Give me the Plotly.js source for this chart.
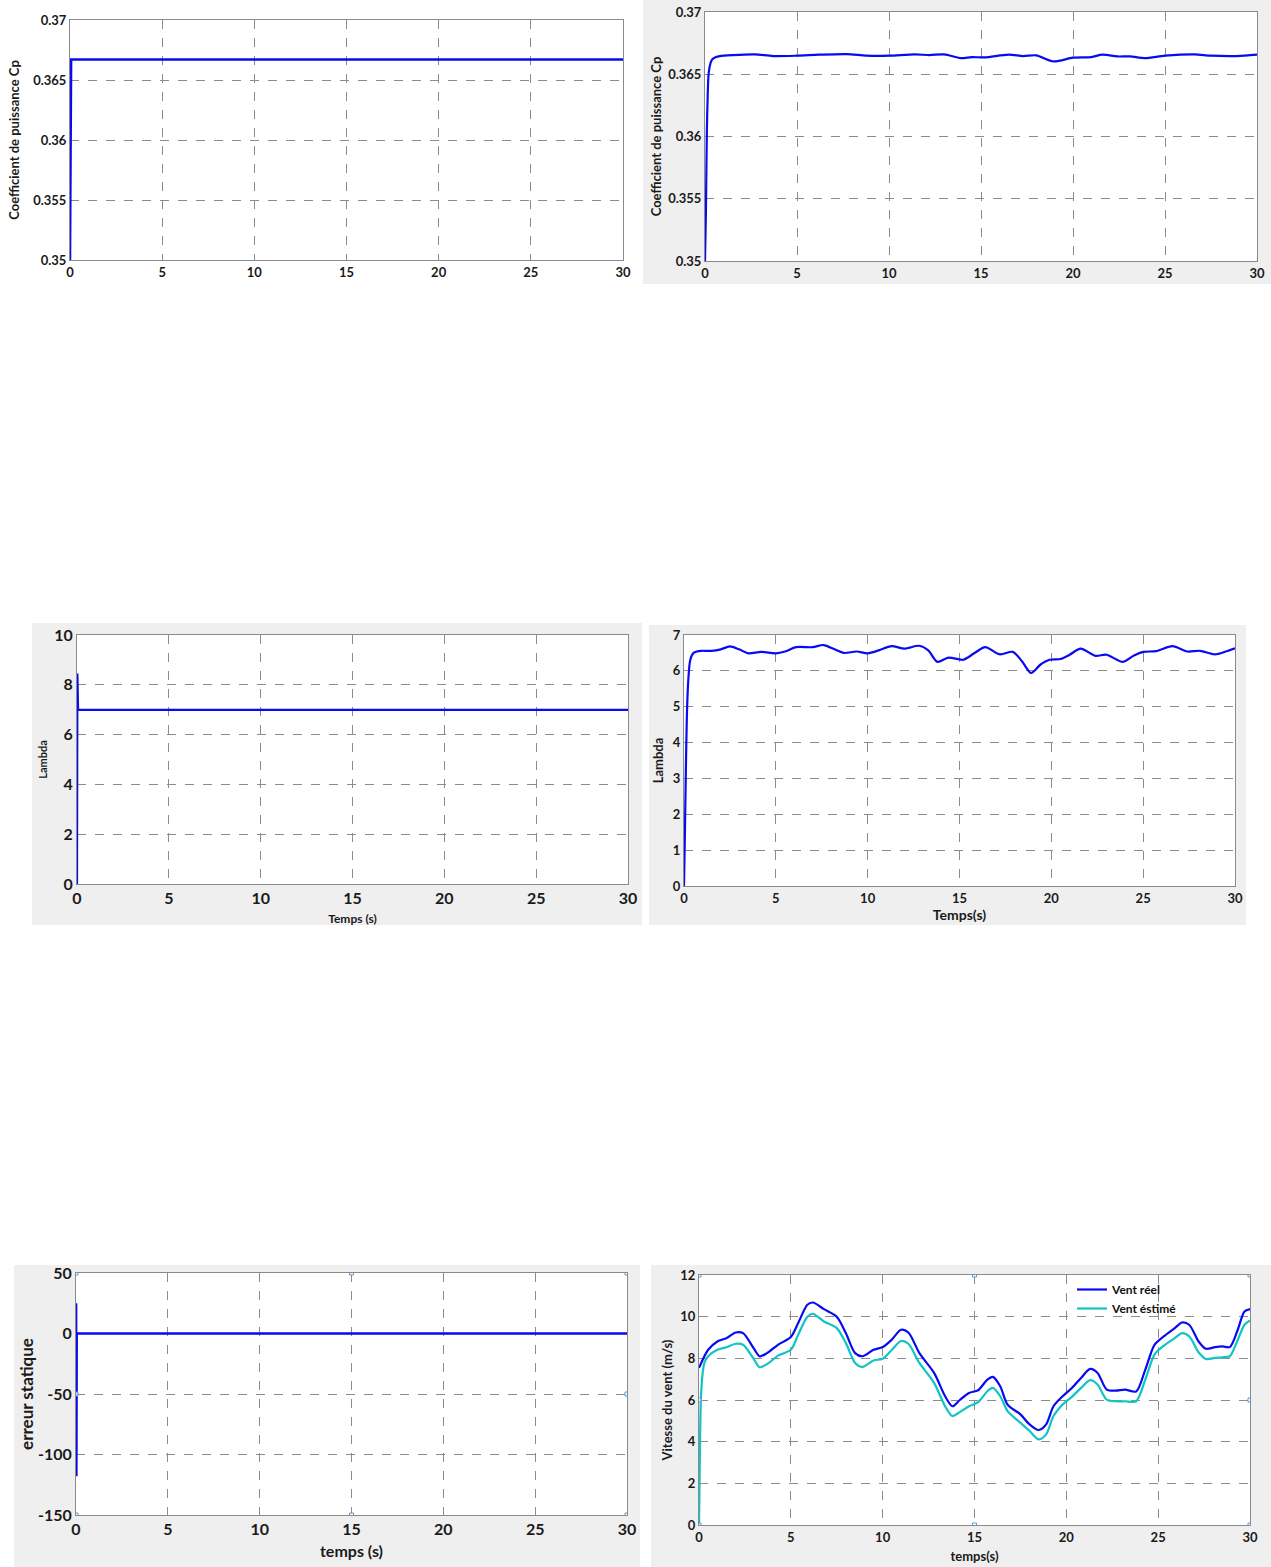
<!DOCTYPE html>
<html><head><meta charset="utf-8">
<script src="https://cdn.plot.ly/plotly-3.0.1.min.js"></script>
<style>html,body{margin:0;padding:0;background:#fff}#chart{width:1271px;height:1567px}</style>
</head><body><div id="chart"></div>
<script>
// ---------- DATA ----------
// Panel 1: Cp (left) – step response
const cp1_t = [0, 0.03, 0.06, 30];
const cp1_v = [0.35, 0.3667, 0.3667, 0.3667];

// Panel 2: Cp (right) – with ripples
const cp2_t = [0, 0.05, 0.1, 0.15, 0.2, 0.3, 0.4, 0.6, 0.8, 1.5, 2.7, 3.7, 5, 6.2, 7.7, 8.8, 10, 11.4, 12.2, 13, 13.9, 14.5, 15.2, 16.5, 17.3, 18, 18.95, 20, 21, 21.6, 22.4, 23.1, 23.9, 25, 26.6, 27.5, 28.9, 30];
const cp2_v = [0.35, 0.354, 0.3603, 0.3635, 0.3651, 0.3659, 0.3662, 0.36638, 0.36646, 0.36654, 0.3666, 0.36646, 0.36649, 0.36657, 0.36662, 0.36649, 0.36649, 0.3666, 0.36654, 0.3666, 0.3663, 0.36638, 0.36635, 0.36657, 0.36646, 0.36652, 0.36603, 0.36633, 0.36638, 0.36657, 0.36643, 0.36643, 0.3663, 0.36649, 0.3666, 0.36649, 0.36646, 0.36657];

// Panel 3: Lambda (left)
const lam1_t = [0, 0.02, 0.06, 0.1, 30];
const lam1_v = [0, 8.45, 7.0, 6.99, 6.99];

// Panel 4: Lambda (right)
const lam2_t = [0, 0.05, 0.1, 0.15, 0.2, 0.26, 0.32, 0.4, 0.52, 0.7, 0.93, 1.5, 2, 2.5, 3, 3.5, 4.2, 5, 5.5, 6.1, 7, 7.6, 8.2, 8.7, 9.4, 10, 10.6, 11.3, 12, 12.8, 13.3, 13.8, 14.4, 15.2, 15.8, 16.4, 17.2, 17.9, 18.4, 18.9, 19.4, 19.9, 20.5, 21, 21.6, 22.4, 23, 23.9, 24.5, 25, 25.7, 26.6, 27.4, 28.1, 28.9, 29.5, 30];
const lam2_v = [0, 1.5, 3.2, 4.6, 5.4, 5.94, 6.25, 6.4, 6.5, 6.54, 6.56, 6.56, 6.6, 6.68, 6.6, 6.49, 6.53, 6.49, 6.54, 6.66, 6.66, 6.72, 6.6, 6.5, 6.54, 6.49, 6.57, 6.69, 6.62, 6.7, 6.57, 6.25, 6.37, 6.31, 6.49, 6.66, 6.46, 6.53, 6.27, 5.94, 6.17, 6.31, 6.33, 6.45, 6.62, 6.42, 6.45, 6.25, 6.43, 6.53, 6.55, 6.69, 6.54, 6.56, 6.46, 6.54, 6.63];

// Panel 5: erreur statique
const err_t = [0, 0.005, 0.02, 0.04, 30];
const err_v = [0, 25, -118, 0, 0];
const err_ticks = [-150, -100, -50, 0, 50];
const err_ticktext = ['-150', '-100', '-50', '0', '50'];

// Panel 6: wind speed
const wind_t = [0, 0.5, 1, 1.5, 2, 2.4, 3, 3.3, 3.7, 4.3, 5, 5.4, 5.9, 6.2, 6.8, 7.5, 8, 8.5, 8.9, 9.5, 10, 10.5, 11, 11.4, 12, 12.8, 13.4, 13.8, 14.2, 14.7, 15.2, 15.7, 16, 16.4, 16.8, 17.5, 18, 18.5, 18.9, 19.3, 19.8, 20.3, 20.8, 21.3, 21.7, 22.2, 22.7, 23.2, 23.8, 24.3, 24.8, 25.3, 25.9, 26.3, 26.7, 27.2, 27.6, 28.1, 28.5, 28.9, 29.3, 29.7, 30];
const wind_real = [7.54, 8.41, 8.81, 8.97, 9.24, 9.21, 8.45, 8.1, 8.25, 8.65, 9.02, 9.69, 10.57, 10.68, 10.36, 10.0, 9.2, 8.25, 8.1, 8.41, 8.54, 8.9, 9.37, 9.24, 8.25, 7.3, 6.18, 5.7, 6.0, 6.34, 6.47, 6.98, 7.11, 6.66, 5.78, 5.31, 4.83, 4.56, 4.83, 5.7, 6.18, 6.58, 7.06, 7.49, 7.3, 6.5, 6.45, 6.5, 6.41, 7.46, 8.65, 9.05, 9.45, 9.72, 9.6, 8.81, 8.46, 8.54, 8.57, 8.54, 9.29, 10.25, 10.36];
const west_t = [0, 0.05, 0.1, 0.2, 0.3, 0.5, 1, 1.5, 2, 2.4, 3, 3.3, 3.8, 4.3, 5, 5.4, 5.9, 6.2, 6.8, 7.5, 8, 8.5, 8.9, 9.5, 10, 10.5, 11, 11.4, 12, 12.8, 13.4, 13.8, 14.2, 14.7, 15.2, 15.7, 16, 16.4, 16.8, 17.5, 18, 18.5, 18.9, 19.3, 19.8, 20.3, 20.8, 21.3, 21.7, 22.2, 22.7, 23.2, 23.8, 24.3, 24.8, 25.3, 25.9, 26.3, 26.7, 27.2, 27.6, 28.1, 28.5, 28.9, 29.3, 29.7, 30];
const wind_est = [0, 3.5, 6.0, 7.3, 7.8, 8.1, 8.41, 8.53, 8.7, 8.65, 7.94, 7.57, 7.78, 8.13, 8.41, 9.13, 10.0, 10.14, 9.77, 9.45, 8.73, 7.78, 7.59, 7.9, 7.98, 8.41, 8.83, 8.7, 7.78, 6.82, 5.7, 5.23, 5.42, 5.7, 5.9, 6.42, 6.58, 6.18, 5.47, 4.91, 4.51, 4.11, 4.35, 5.23, 5.78, 6.15, 6.58, 6.95, 6.74, 6.02, 5.94, 5.94, 5.94, 6.98, 8.18, 8.6, 8.97, 9.21, 9.05, 8.29, 7.97, 8.02, 8.05, 8.1, 8.81, 9.61, 9.82];

// ---------- LAYOUT HELPERS ----------
const W = 1271, H = 1567;
const dx = (a, b) => [a / W, b / W];
const dy = (top, bot) => [1 - bot / H, 1 - top / H];
const FONT = 'Lato, "Open Sans", sans-serif';
const BLUE = '#0a0af0', CYAN = '#10c4c4';

function ax(domain, anchor, range, dtick, tsize, title, tfs, standoff) {
  const o = {
    domain: domain, anchor: anchor, range: range, dtick: dtick, tick0: range[0],
    showline: true, mirror: true, linecolor: '#8a8a8a', linewidth: 1,
    showgrid: true, gridcolor: '#8c8c8c', griddash: 'dash', gridwidth: 1,
    zeroline: false, ticks: '', fixedrange: true, automargin: false,
    tickfont: {family: FONT, size: tsize, color: '#1a1a1a', weight: 'bold'}
  };
  if (title) o.title = {text: title, font: {family: FONT, size: tfs, color: '#1a1a1a', weight: 'bold'}, standoff: standoff};
  return o;
}

function line(t, v, xa, ya, color, w, name, show, shape) {
  return {x: t, y: v, xaxis: xa, yaxis: ya, type: 'scatter', mode: 'lines', name: name || '',
    showlegend: !!show, line: {color: color, width: w, shape: shape || 'linear', smoothing: 0.8}, hoverinfo: 'skip'};
}

const traces = [
  line(cp1_t, cp1_v, 'x', 'y', BLUE, 2.5),
  line(cp2_t, cp2_v, 'x2', 'y2', BLUE, 2.2, '', false, 'spline'),
  line(lam1_t, lam1_v, 'x3', 'y3', BLUE, 2.2),
  line(lam2_t, lam2_v, 'x4', 'y4', BLUE, 2.2, '', false, 'spline'),
  line(err_t, err_v, 'x5', 'y5', BLUE, 2.5),
  line(wind_t, wind_real, 'x6', 'y6', BLUE, 2.2, 'Vent réel', true, 'spline'),
  line(west_t, wind_est, 'x6', 'y6', CYAN, 2.2, 'Vent éstimé', true, 'spline')
];

const bg = '#efefef';
const rect = (x0, y0, x1, y1, c) => ({type: 'rect', xref: 'paper', yref: 'paper', x0: x0 / W, x1: x1 / W, y0: 1 - y1 / H, y1: 1 - y0 / H, fillcolor: c, line: {width: 0}, layer: 'below'});
const shapes = [
  rect(643, 0, 1271, 284, bg),
  rect(32, 623, 642, 925, bg),
  rect(649, 625, 1246, 925, bg),
  rect(14, 1265, 640, 1567, bg),
  rect(651, 1265, 1271, 1567, bg),
  // white plot areas on top of the grey frames
  rect(705, 12, 1257, 261, '#ffffff'),
  rect(77, 635, 628, 884, '#ffffff'),
  rect(684, 635, 1235, 886, '#ffffff'),
  rect(76, 1273, 627, 1515, '#ffffff'),
  rect(699, 1275, 1250, 1525, '#ffffff')
];
// small selection handles (decoration) on the lower panels
function handle(xa, ya, xv, yv) {
  return {type: 'rect', xref: xa, yref: ya, xsizemode: 'pixel', ysizemode: 'pixel', xanchor: xv, yanchor: yv,
    x0: -2, x1: 2, y0: -2, y1: 2, line: {color: '#5b9bd5', width: 1}, fillcolor: 'rgba(255,255,255,0.8)', layer: 'above'};
}
[[0, 50], [15, 50], [30, 50], [0, -50], [30, -50], [0, -150], [15, -150], [30, -150]].forEach(p => shapes.push(handle('x5', 'y5', p[0], p[1])));
[[0, 12], [15, 12], [30, 12], [0, 6], [30, 6], [0, 0], [15, 0], [30, 0]].forEach(p => shapes.push(handle('x6', 'y6', p[0], p[1])));

const y5 = ax(dy(1273, 1515), 'x5', [-150, 50], 50, 16, 'erreur statique', 17, 0);
y5.tickmode = 'array'; y5.tickvals = err_ticks; y5.ticktext = err_ticktext;

const layout = {
  width: W, height: H, margin: {l: 0, r: 0, t: 0, b: 0},
  paper_bgcolor: '#ffffff', plot_bgcolor: '#ffffff',
  font: {family: FONT},
  shapes: shapes,
  xaxis: ax(dx(70, 623), 'y', [0, 30], 5, 13),
  yaxis: ax(dy(20, 260), 'x', [0.35, 0.37], 0.005, 13, 'Coefficient de puissance Cp', 13, 10),
  xaxis2: ax(dx(705, 1257), 'y2', [0, 30], 5, 13),
  yaxis2: ax(dy(12, 261), 'x2', [0.35, 0.37], 0.005, 13, 'Coefficient de puissance Cp', 13, 3),
  xaxis3: ax(dx(77, 628), 'y3', [0, 30], 5, 16, 'Temps (s)', 12, 8),
  yaxis3: ax(dy(635, 884), 'x3', [0, 10], 2, 16, 'Lambda', 11, 4),
  xaxis4: ax(dx(684, 1235), 'y4', [0, 30], 5, 13, 'Temps(s)', 14, 5),
  yaxis4: ax(dy(635, 886), 'x4', [0, 7], 1, 13, 'Lambda', 13, 6),
  xaxis5: ax(dx(76, 627), 'y5', [0, 30], 5, 16, 'temps (s)', 16, 8),
  yaxis5: y5,
  xaxis6: ax(dx(699, 1250), 'y6', [0, 30], 5, 13, 'temps(s)', 13, 8),
  yaxis6: ax(dy(1275, 1525), 'x6', [0, 12], 2, 13, 'Vitesse du vent (m/s)', 13, 4),
  showlegend: true,
  legend: {x: 1072 / W, y: 1 - 1275 / H, xanchor: 'left', yanchor: 'top', bgcolor: 'rgba(0,0,0,0)',
    font: {family: FONT, size: 12, color: '#111', weight: 'bold'}, itemwidth: 30, tracegroupgap: 0}
};

Plotly.newPlot('chart', traces, layout, {staticPlot: true, displayModeBar: false});
</script></body></html>
